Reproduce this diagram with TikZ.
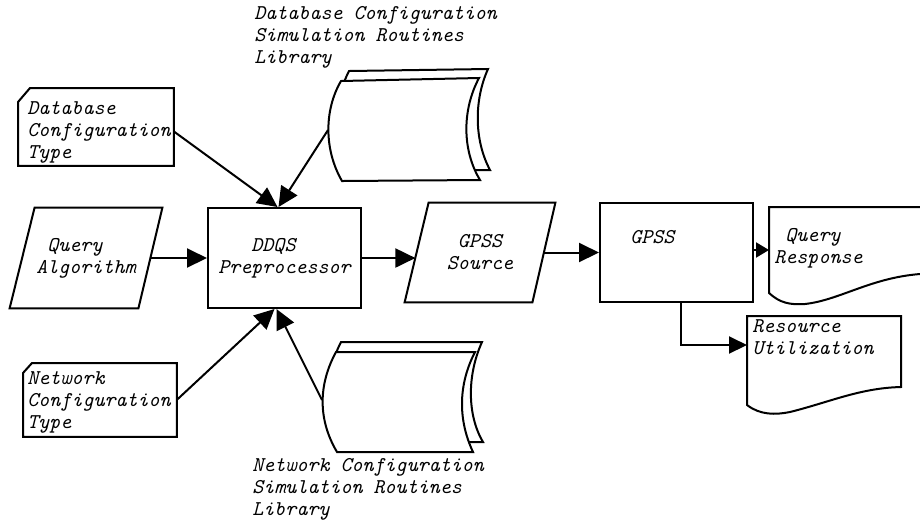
\documentclass[tikz,border=0pt]{standalone}
\usetikzlibrary{arrows.meta}
\begin{document}
\begin{tikzpicture}[x=0.5pt,y=-0.5pt,
  lbl/.style={font=\fontsize{10.5}{11}\selectfont\ttfamily\itshape, inner sep=0pt, align=left},
  frame/.style={inner sep=0pt, draw=none},
  box/.style={lbl, draw, line width=1pt},
  outl/.style={line width=1pt},
  page/.style={line width=1pt, fill=white},
  conn/.style={line width=1pt, -{Triangle[length=10pt,width=9.5pt]}},
  connmid/.style={line width=1pt, -{Triangle[length=9pt,width=8.5pt]}},
  connsm/.style={line width=1pt, -{Triangle[length=6.5pt,width=7.5pt]}}]
\useasboundingbox (0,0) rectangle (920,527);

% DDQS Preprocessor
\node[box, minimum width=76.5pt, minimum height=50pt] (ddqs) at (284.5,258) {\phantom{XXX}DDQS\\Preprocessor};

% Query Algorithm (parallelogram)
\node[lbl, minimum width=76pt, minimum height=50pt] (qa) at (86,258) {\phantom{X}Query\\Algorithm};
\draw[outl] (qa.south west) -- ([xshift=12.5pt]qa.north west) -- (qa.north east) -- ([xshift=-12pt]qa.south east) -- cycle;

% GPSS Source (parallelogram)
\node[lbl, minimum width=75pt, minimum height=49.5pt] (gs) at (480,252.5) {\phantom{X}GPSS\\Source};
\draw[outl] (gs.south west) -- ([xshift=12pt]gs.north west) -- (gs.north east) -- ([xshift=-11.5pt]gs.south east) -- cycle;

% GPSS box
\node[box, minimum width=76.5pt, minimum height=49.5pt] (gpss) at (676.5,252.5) {};
\node[lbl, anchor=base west] (gpssT) at (630,243) {GPSS};

% Query Response document
\coordinate (qr) at (769,207);
\draw[outl] (920,207) -- (qr) -- (769,293) .. controls (780,303) and (790,305) .. (805,304) .. controls (840,300) and (870,278) .. (920,274);
\node[lbl, anchor=base west] (qrT) at (774,263) {\phantom{X}Query\\Response};

% Resource Utilization document
\draw[outl] (747,316) -- (901,316) -- (901,387) .. controls (860,388) and (830,402) .. (790,412) .. controls (775,415) and (760,415) .. (747,405) -- cycle;
\coordinate (ru) at (747,345);
\node[lbl, anchor=base west] (ruT) at (752,354) {Resource\\Utilization};

% Database Configuration Type card
\node[frame, minimum width=77.5pt, minimum height=38.5pt, anchor=north west] (dbct) at (18,88) {};
\draw[outl] ([yshift=-7pt]dbct.north west) -- ([xshift=6pt]dbct.north west) -- (dbct.north east) -- (dbct.south east) -- (dbct.south west) -- cycle;
\node[lbl, anchor=base west] (dbctT) at (27,158) {Database\\Configuration\\Type};

% Network Configuration Type card
\node[frame, minimum width=76.5pt, minimum height=36.5pt, anchor=north west] (ncct) at (23,363) {};
\draw[outl] ([yshift=-5pt]ncct.north west) -- ([xshift=4.5pt]ncct.north west) -- (ncct.north east) -- (ncct.south east) -- (ncct.south west) -- cycle;
\node[lbl, anchor=base west] (ncctT) at (27,428) {Network\\Configuration\\Type};

% Database Configuration Simulation Routines Library
\draw[page] (349,71) -- (488,69) .. controls (474,100) and (474,140) .. (490,170) -- (350,171) .. controls (334,140) and (334,100) .. cycle;
\draw[page] (341,81) -- (479,78) .. controls (462,110) and (462,150) .. (480,180) -- (342,181) .. controls (324,150) and (324,110) .. cycle;
\coordinate (dbl) at (328,130);
\node[lbl, anchor=base west] (dblT) at (254,63) {Database Configuration\\Simulation Routines\\Library};

% Network Configuration Simulation Routines Library
\draw[page] (341,342) -- (482,342) .. controls (467,375) and (467,415) .. (483,442) -- (343,443) .. controls (324,415) and (324,375) .. cycle;
\draw[page] (336,352) -- (475,352) .. controls (458,385) and (458,420) .. (473,452) -- (337,452) .. controls (318,420) and (318,385) .. cycle;
\coordinate (nlib) at (322,400);
\node[lbl, anchor=base west] (nlT) at (252,515) {Network Configuration\\Simulation Routines\\Library};

% connectors
\draw[conn] ([yshift=-2.25pt]dbct.east) -- ([xshift=-3.5pt]ddqs.north);
\draw[conn] (dbl) -- ([xshift=-3pt]ddqs.north);
\draw[conn] (ncct.east) -- ([xshift=-5pt]ddqs.south);
\draw[conn] (nlib) -- ([xshift=-4pt]ddqs.south);
\draw[conn] ([xshift=-6pt]qa.east) -- (ddqs.west);
\draw[conn] (ddqs.east) -- ([xshift=5.4pt]gs.west |- ddqs.east);
\draw[conn] ([xshift=-5.75pt]gs.east) -- (gs.east -| gpss.west);
\draw[connsm] ([yshift=1.25pt]gpss.east) -- ([yshift=1.25pt]gpss.east -| qr);
\draw[connmid] ([xshift=2.25pt]gpss.south) |- (ru);
\end{tikzpicture}
\end{document}
